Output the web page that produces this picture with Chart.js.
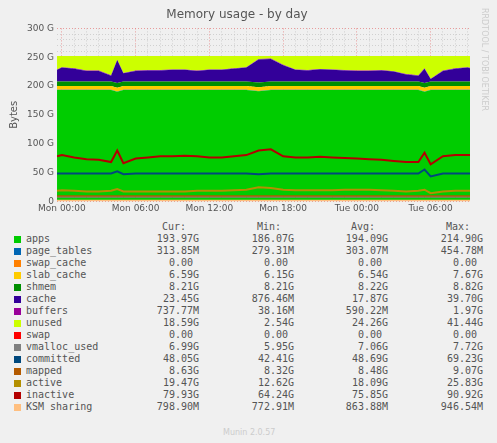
<!DOCTYPE html>
<html><head><meta charset="utf-8">
<script src="https://cdn.jsdelivr.net/npm/chart.js@4"></script>
<style>
body{margin:0;background:#f0f0f0;width:497px;height:443px;overflow:hidden;position:relative;font-family:"DejaVu Sans Mono",monospace;color:#555}
#c{position:absolute;left:0;top:0}
#rrd{position:absolute;left:480px;top:8px;writing-mode:vertical-rl;font:8px "DejaVu Sans";color:#ccc}
#leg{position:absolute;left:0;top:221px;font-size:10px;line-height:12px}
.row{position:relative;height:12px;white-space:pre}
.row span{position:absolute}
.sw{width:7px;height:7px;left:14px;top:3px}
.nm{left:26px}
.v{text-align:right;width:80px}
#munin{position:absolute;left:223px;top:428px;font:8px "DejaVu Sans";color:#ccc}
</style></head><body>
<canvas id="c" width="497" height="216"></canvas>
<div id="rrd">RRDTOOL / TOBI OETIKER</div>
<div id="leg"></div>
<div id="munin">Munin 2.0.57</div>
<script>
// DATA (G), x in hours since Mon 00:00
const hours      = [-0.4,0,1,2,3,4,4.5,5,6,7,8,9,10,11,12,13,14,15,16,17,18,19,20,21,22,23,24,25,26,27,28,29,29.5,30,31,32,33,33.2];
const apps       = [193,193,193,193,193,193,190,193,193,193,193,193,193,193,193,193,193,193,191,193,193,193,193,193,193,193,193,193,193,193,193,193,190,193,193,193,193,193];
const cacheTop   = [228,232,230,226,226,218,245,222,226,227,227,228,228,226,228,228,230,232,246,247,236,228,227,229,228,227,226,226,227,225,220,218,230,212,226,230,232,231];
const inactive   = [78,80,76,73,72,68,88,66,74,76,78,78,79,78,76,76,78,80,88,90,78,76,76,77,76,75,74,73,72,70,68,68,84,64,78,80,80,80];
const committed  = [48,48,48,48,48,48,52,47,48,48,48,48,48,48,48,48,48,48,47,48,48,48,48,48,48,48,48,48,48,48,48,48,55,43,48,48,48,48];
const active     = [18,19,18,17,17,18,21,17,17,17,17,17,17,18,18,18,19,20,24,23,20,19,19,19,19,20,20,20,19,18,17,18,20,14,17,18,18,18];
const pageTables = 0.31, swapCache = 0, slab = 6.5, shmem = 8.2, buffers = 0.7, total = 252;
const mapped = 8.5, vmalloc = 7.0, ksm = 0.8, swap = 0;
const yTicks = [0,50,100,150,200,250,300];
const xTicks = [0,6,12,18,24,30];
const xLabels = ['Mon 00:00','Mon 06:00','Mon 12:00','Mon 18:00','Tue 00:00','Tue 06:00'];

const legendRows = [
  ['apps','#00cc00','193.97G','186.07G','194.09G','214.90G'],
  ['page_tables','#0066b3','313.85M','279.31M','303.07M','454.78M'],
  ['swap_cache','#ff8000','0.00 ','0.00 ','0.00 ','0.00 '],
  ['slab_cache','#ffcc00','6.59G','6.15G','6.54G','7.67G'],
  ['shmem','#008f00','8.21G','8.21G','8.22G','8.82G'],
  ['cache','#330099','23.45G','876.46M','17.87G','39.70G'],
  ['buffers','#990099','737.77M','38.16M','590.22M','1.97G'],
  ['unused','#ccff00','18.59G','2.54G','24.26G','41.44G'],
  ['swap','#ff0000','0.00 ','0.00 ','0.00 ','0.00 '],
  ['vmalloc_used','#808080','6.99G','5.95G','7.06G','7.72G'],
  ['committed','#00487d','48.05G','42.41G','48.69G','69.23G'],
  ['mapped','#b35a00','8.63G','8.32G','8.48G','9.07G'],
  ['active','#b38f00','19.47G','12.62G','18.09G','25.83G'],
  ['inactive','#b30000','79.93G','64.24G','75.85G','90.92G'],
  ['KSM sharing','#ffbf80','798.90M','772.91M','863.88M','946.54M']
];

const base = apps.map(a => a + pageTables + swapCache + slab + shmem);
const pts = arr => hours.map((h, i) => ({x: h, y: arr[i]}));
const cst = v => hours.map(h => ({x: h, y: v}));

const area = (label, data, color, first) => ({label, data, backgroundColor: color, borderColor: color,
  borderWidth: 0, pointRadius: 0, fill: first ? 'origin' : '-1', stack: 'mem', order: 2});
const line = (label, data, color, w) => ({label, data, borderColor: color, borderWidth: w,
  pointRadius: 0, fill: false, stack: label, order: 1});

const datasets = [
  area('apps', pts(apps), '#00cc00', true),
  area('page_tables', cst(pageTables), '#0066b3'),
  area('swap_cache', cst(swapCache), '#ff8000'),
  area('slab_cache', cst(slab), '#ffcc00'),
  area('shmem', cst(shmem), '#008f00'),
  area('cache', pts(cacheTop.map((t, i) => t - base[i])), '#330099'),
  area('buffers', cst(buffers), '#990099'),
  area('unused', pts(cacheTop.map(t => total - t - buffers)), '#ccff00'),
  area('swap', cst(swap), '#ff0000'),
  line('vmalloc_used', cst(vmalloc), '#808080', 1),
  line('committed', pts(committed), '#00487d', 2),
  line('mapped', cst(mapped), '#b35a00', 2),
  line('active', pts(active), '#b38f00', 2),
  line('inactive', pts(inactive), '#b30000', 2),
  line('KSM sharing', cst(ksm), '#ffbf80', 2)
];

new Chart(document.getElementById('c'), {
  type: 'line',
  data: {datasets},
  options: {
    responsive: false, animation: false, devicePixelRatio: 1,
    layout: {padding: {left: 4, right: 27, top: 0, bottom: 0}},
    plugins: {
      legend: {display: false}, tooltip: {enabled: false},
      title: {display: true, text: 'Memory usage - by day', color: '#555',
        font: {family: 'DejaVu Sans', size: 12, weight: 'normal'}, padding: {top: 8, bottom: 6}}
    },
    elements: {line: {tension: 0}},
    scales: {
      x: {type: 'linear', min: -0.4, max: 33.2,
        afterBuildTicks: s => { s.ticks = []; for (let h = 0; h <= 33; h++) s.ticks.push({value: h}); },
        ticks: {color: '#555', font: {family: 'DejaVu Sans', size: 9}, maxRotation: 0, autoSkip: false, padding: 2,
          callback: v => { const i = xTicks.indexOf(v); return i >= 0 ? xLabels[i] : ''; }},
        grid: {color: c => xTicks.includes(c.tick.value) ? 'rgba(230,120,120,0.7)' : 'rgba(200,200,200,0.8)',
          tickLength: 0, drawTicks: false},
        border: {dash: [1, 2], display: false}
      },
      y: {stacked: true, min: 0, max: 300,
        afterBuildTicks: s => { s.ticks = []; for (let v = 0; v <= 300; v += 10) s.ticks.push({value: v}); },
        title: {display: true, text: 'Bytes', color: '#555', font: {family: 'DejaVu Sans', size: 10}},
        ticks: {color: '#555', font: {family: 'DejaVu Sans', size: 9}, autoSkip: false,
          callback: v => yTicks.includes(v) ? (v === 0 ? '0' : v + ' G') : ''},
        grid: {color: c => yTicks.includes(c.tick.value) ? 'rgba(230,120,120,0.7)' : 'rgba(200,200,200,0.8)',
          drawTicks: false},
        border: {dash: [1, 2], display: false}
      }
    }
  }
});

// Legend table
const leg = document.getElementById('leg');
const col = (txt, right, top) => `<span class="v" style="left:${right - 80}px">${txt}</span>`;
let html = '<div class="row">' + col('Cur:', 186) + col('Min:', 281) + col('Avg:', 375) + col('Max:', 470) + '</div>';
legendRows.forEach(r => {
  html += `<div class="row"><span class="sw" style="background:${r[1]}"></span><span class="nm">${r[0]}</span>` +
    col(r[2], 199) + col(r[3], 294) + col(r[4], 388) + col(r[5], 483) + '</div>';
});
html += '<div class="row">' + `<span style="right:14px">Last update: Tue Dec 23 08:30:10 2025</span>` + '</div>';
leg.innerHTML = html;
</script>
</body></html>
